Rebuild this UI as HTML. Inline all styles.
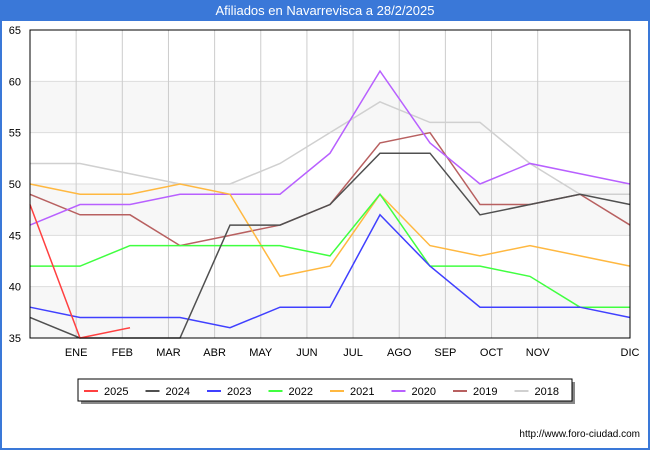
<!DOCTYPE html>
<html><head><meta charset="utf-8"><style>
body{margin:0;width:650px;height:450px;overflow:hidden;font-family:"Liberation Sans",sans-serif;background:#fff}
</style></head><body>
<svg width="650" height="450" xmlns="http://www.w3.org/2000/svg">
<rect x="0" y="0" width="650" height="450" fill="#3a78d8"/>
<rect x="2" y="21" width="646" height="427" fill="#fff"/>
<text x="325" y="15" text-anchor="middle" fill="#fff" font-size="13">Afiliados en Navarrevisca a 28/2/2025</text>
<g id="plot"></g>
<rect x="30" y="30" width="600" height="308" fill="none" stroke="#000" stroke-width="1"/>
<rect x="81" y="382" width="494" height="22" fill="#888"/>
<rect x="78" y="379" width="494" height="22" fill="#fff" stroke="#000"/>
<g id="legend"></g>
<text x="640" y="437" text-anchor="end" font-size="10" fill="#000">http://www.foro-ciudad.com</text>
</svg>
<script>
const months=["","ENE","FEB","MAR","ABR","MAY","JUN","JUL","AGO","SEP","OCT","NOV","DIC"];
const yTicks=[35,40,45,50,55,60,65];
const seriesNames=["2025","2024","2023","2022","2021","2020","2019","2018"];
const seriesColors=["#ff4040","#505050","#4040ff","#40ff40","#ffb840","#b860ff","#b86060","#d0d0d0"];
const s2025=[48,35,36];
const s2024=[37,35,35,35,46,46,48,53,53,47,48,49,48];
const s2023=[38,37,37,37,36,38,38,47,42,38,38,38,37];
const s2022=[42,42,44,44,44,44,43,49,42,42,41,38,38];
const s2021=[50,49,49,50,49,41,42,49,44,43,44,43,42];
const s2020=[46,48,48,49,49,49,53,61,54,50,52,51,50];
const s2019=[49,47,47,44,45,46,48,54,55,48,48,49,46];
const s2018=[52,52,51,50,50,52,55,58,56,56,52,49,49];
const allSeries=[s2025,s2024,s2023,s2022,s2021,s2020,s2019,s2018];
const NS="http://www.w3.org/2000/svg";
const X0=30,X1=630,Y0=338,Y1=30,YMIN=35,YMAX=65;
const xs=i=>X0+i*(X1-X0)/(months.length);
const ys=v=>Y0-(v-YMIN)*(Y0-Y1)/(YMAX-YMIN);
const plot=document.getElementById('plot');
function mk(t,a){const e=document.createElementNS(NS,t);for(const k in a)e.setAttribute(k,a[k]);return e;}
for(let i=0;i<yTicks.length-1;i+=2){
 const r=mk('rect',{x:X0,y:ys(yTicks[i]+5),width:X1-X0,height:ys(yTicks[i])-ys(yTicks[i]+5),fill:'#f7f7f7'});
 
 
 plot.appendChild(r);}
yTicks.forEach(v=>{
 const l=mk('line',{x1:X0,x2:X1,y1:ys(v),y2:ys(v),stroke:'#ddd'});
 
 
 plot.appendChild(l);
 const t=mk('text',{x:X0-9,y:ys(v)+4,'text-anchor':'end','font-size':'11',fill:'#000'});
 t.textContent=v;
 
 
 plot.appendChild(t);});
months.forEach((m,i)=>{if(i===0)return;
 const x=xs(i)+ (i===12?0:0);
 const xx=i===12?X1:x;
 const l=mk('line',{x1:xx,x2:xx,y1:Y1,y2:Y0,stroke:'#ccc'});
 
 
 plot.appendChild(l);
 const t=mk('text',{x:xx,y:356,'text-anchor':'middle','font-size':'11',fill:'#000'});
 t.textContent=m;
 
 
 plot.appendChild(t);});
const xp=i=>X0+i*(X1-X0)/12;
for(let s=allSeries.length-1;s>=0;s--){
 const pts=allSeries[s].map((v,i)=>xp(i)+','+ys(v)).join(' ');
 const p=mk('polyline',{points:pts,fill:'none',stroke:seriesColors[s],'stroke-width':'1.5'});
 
 
 plot.appendChild(p);}
const lg=document.getElementById('legend');
seriesNames.forEach((n,i)=>{const x=84+i*61.5;
 const l=mk('line',{x1:x,x2:x+14,y1:391,y2:391,stroke:seriesColors[i],'stroke-width':'2'});
 
 
 lg.appendChild(l);
 const t=mk('text',{x:x+20,y:395,'font-size':'11',fill:'#000'});
 t.textContent=n;
 
 
 lg.appendChild(t);});
</script>
</body></html>
